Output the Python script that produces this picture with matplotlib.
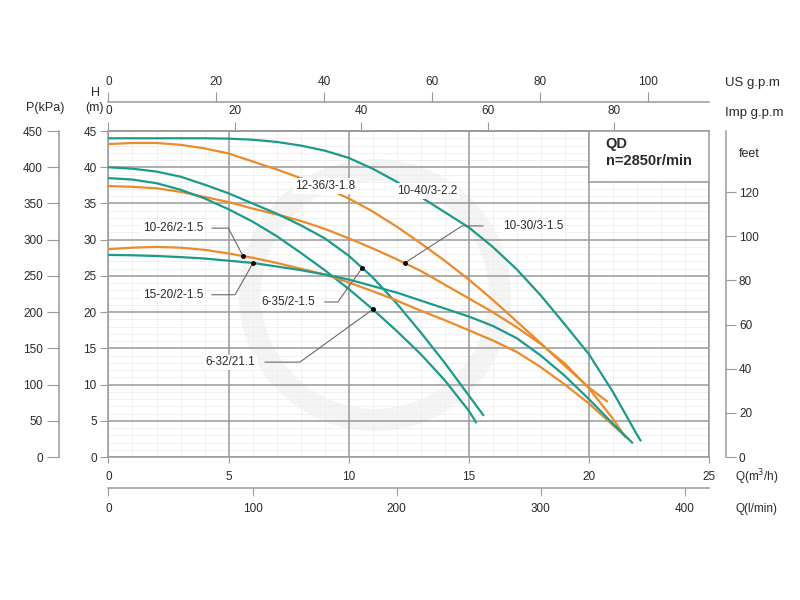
import matplotlib.pyplot as plt
from matplotlib.patches import Rectangle, Ellipse
from matplotlib.ticker import MultipleLocator

plt.rcParams['font.family'] = ['Liberation Sans', 'DejaVu Sans']

# pump curves, Q in m3/h, H in m
q_10_40 = [0, 2, 4, 5, 6, 7, 8, 9, 10, 11, 12, 13, 14, 15, 16, 17, 18, 19, 20, 21, 22, 22.15]
h_10_40 = [44.0, 44.0, 44.0, 43.95, 43.8, 43.5, 43.0, 42.3, 41.3, 39.8, 38.0, 35.9, 33.8, 31.7,
           29.0, 25.9, 22.3, 18.3, 14.2, 9.0, 3.1, 2.3]

q_12_36 = [0, 1, 2, 3, 4, 5, 6, 7, 8, 9, 10, 11, 12, 13, 14, 15, 16, 17, 18, 19, 20, 20.75]
h_12_36 = [43.2, 43.35, 43.35, 43.1, 42.6, 41.9, 40.8, 39.7, 38.5, 37.2, 35.7, 33.9, 31.8, 29.5,
           27.1, 24.5, 21.7, 18.7, 15.7, 12.6, 9.6, 7.7]

q_10_30 = [0, 1, 2, 3, 4, 5, 6, 7, 8, 9, 10, 11, 12, 13, 14, 15, 16, 17, 18, 19, 20, 21, 21.5]
h_10_30 = [37.4, 37.3, 37.1, 36.6, 35.9, 35.2, 34.3, 33.5, 32.6, 31.5, 30.2, 28.8, 27.3, 25.7,
           23.8, 21.9, 20.0, 17.9, 15.6, 12.9, 9.5, 5.3, 2.8]

q_6_35 = [0, 1, 2, 3, 4, 5, 6, 7, 8, 9, 10, 11, 12, 13, 14, 15, 15.6]
h_6_35 = [40.0, 39.8, 39.4, 38.7, 37.6, 36.4, 35.0, 33.6, 32.0, 30.2, 27.8, 24.8, 21.2, 17.2,
          13.0, 8.5, 5.8]

q_6_32 = [0, 1, 2, 3, 4, 5, 6, 7, 8, 9, 10, 11, 12, 13, 14, 15, 15.3]
h_6_32 = [38.5, 38.3, 37.8, 36.9, 35.7, 34.2, 32.5, 30.5, 28.2, 25.8, 23.2, 20.4, 17.4, 14.2,
          10.6, 6.4, 4.8]

q_10_26 = [0, 1, 2, 3, 4, 5, 6, 7, 8, 9, 10, 11, 12, 13, 14, 15, 16, 17, 18, 19, 20, 21, 21.6]
h_10_26 = [28.7, 28.9, 29.0, 28.9, 28.6, 28.1, 27.5, 26.8, 26.0, 25.2, 24.1, 22.9, 21.6, 20.2,
           18.9, 17.5, 16.1, 14.5, 12.4, 10.0, 7.4, 4.4, 2.6]

q_15_20 = [0, 1, 2, 3, 4, 5, 6, 7, 8, 9, 10, 11, 12, 13, 14, 15, 16, 17, 18, 19, 20, 21, 21.8]
h_15_20 = [27.9, 27.85, 27.75, 27.6, 27.4, 27.1, 26.8, 26.3, 25.8, 25.2, 24.5, 23.6, 22.7, 21.6,
           20.5, 19.4, 18.1, 16.4, 14.0, 11.2, 8.0, 4.6, 2.0]

# unit factors as drawn on the chart
IMP = 3.8
US = 4.45
LMIN = 16.67
KPA = 10.0
FT = 3.281

TEAL = '#1c9a8a'
ORANGE = '#ec8a2c'
GRID = '#999999'
AXC = '#9a9a9a'
TXT = '#2a2a2a'
TICK_FS = 8.5

fig = plt.figure(figsize=(8, 6), dpi=100)
ax = fig.add_axes([0.1356, 0.2383, 0.7506, 0.5433])
ax.set_xlim(0, 25)
ax.set_ylim(0, 45)

# faint watermark ring
ax.add_patch(Ellipse((375 / 800, 1 - 295 / 600), 250 / 800, 250 / 600, transform=fig.transFigure,
                     fill=False, lw=16, ec='#f4f4f4', zorder=0.1))

# light minor grid under the major one
ax.vlines([x for x in range(1, 25) if x % 5], 0, 45, color='#eeeeee', lw=0.6, zorder=0.2)
ax.hlines([y for y in range(1, 45) if y % 5], 0, 25, color='#eeeeee', lw=0.6, zorder=0.2)

ax.xaxis.set_major_locator(MultipleLocator(5))
ax.yaxis.set_major_locator(MultipleLocator(5))
ax.set_axisbelow(True)
ax.grid(which='major', color=GRID, lw=1.1)
ax.tick_params(axis='both', which='major', color=AXC, labelcolor=TXT, labelsize=TICK_FS)
ax.tick_params(axis='x', length=4.5, pad=5.5)
ax.tick_params(axis='y', length=5.5, pad=3)
for s in ax.spines.values():
    s.set_color(AXC)
    s.set_linewidth(1.1)

curves = [
    (q_10_40, h_10_40, TEAL),
    (q_12_36, h_12_36, ORANGE),
    (q_10_30, h_10_30, ORANGE),
    (q_6_35, h_6_35, TEAL),
    (q_6_32, h_6_32, TEAL),
    (q_10_26, h_10_26, ORANGE),
    (q_15_20, h_15_20, TEAL),
]
for q, h, c in curves:
    ax.plot(q, h, color=c, lw=1.6, zorder=3, solid_joinstyle='round')

# labels sitting on the curves
for x, y, t in [(9.01, 37.4, '12-36/3-1.8'), (13.26, 36.7, '10-40/3-2.2')]:
    ax.text(x, y, t, ha='center', va='center', fontsize=8.5, color=TXT, zorder=5,
            bbox=dict(fc='white', ec='none', pad=1.5))

# labels with leader lines: text pos, leader path, dot
leaders = [
    ('10-26/2-1.5', (2.69, 31.6), [4.31, 4.99, 5.6], [31.6, 31.6, 27.75]),
    ('15-20/2-1.5', (2.69, 22.4), [4.31, 5.27, 6.02], [22.4, 22.4, 26.8]),
    ('6-35/2-1.5', (7.48, 21.4), [9.01, 9.55, 10.56], [21.4, 21.4, 26.1]),
    ('6-32/21.1', (5.07, 13.1), [6.52, 7.97, 11.01], [13.1, 13.1, 20.4]),
    ('10-30/3-1.5', (17.67, 31.9), [15.59, 14.72, 12.34], [31.9, 31.9, 26.8]),
]
for t, (tx, ty), lx, ly in leaders:
    ax.text(tx, ty, t, ha='center', va='center', fontsize=8.5, color=TXT, zorder=5,
            bbox=dict(fc='white', ec='none', pad=1.0))
    ax.plot(lx, ly, color='#6a6a6a', lw=0.8, zorder=4)
    ax.plot(lx[-1], ly[-1], 'o', color='black', ms=2.5, zorder=6)

# model box
ax.add_patch(Rectangle((20, 37.96), 5, 45 - 37.96, fc='white', ec=AXC, lw=1.1, zorder=4))
ax.text(20.7, 43.2, 'QD', fontsize=10.5, fontweight='bold', color=TXT, va='center', zorder=5)
ax.text(20.7, 40.9, 'n=2850r/min', fontsize=10.5, fontweight='bold', color=TXT, va='center', zorder=5)

# extra scales
imp = ax.secondary_xaxis('top', functions=(lambda q: q * IMP, lambda g: g / IMP))
imp.set_xticks([0, 20, 40, 60, 80])
us = ax.secondary_xaxis(1.09, functions=(lambda q: q * US, lambda g: g / US))
us.set_xticks([0, 20, 40, 60, 80, 100])
lmin = ax.secondary_xaxis(-0.095, functions=(lambda q: q * LMIN, lambda l: l / LMIN))
lmin.set_xticks([0, 100, 200, 300, 400])
kpa = ax.secondary_yaxis(-0.0824, functions=(lambda h: h * KPA, lambda p: p / KPA))
kpa.set_yticks(range(0, 451, 50))
ft = ax.secondary_yaxis(1.028, functions=(lambda h: h * FT, lambda f: f / FT))
ft.set_yticks(range(0, 121, 20))

for sa, pos, ln, pd in [(imp, 'top', 6.5, 3.5), (us, 'top', 7, 3), (lmin, 'bottom', 5.5, 5)]:
    sa.tick_params(axis='x', color=AXC, labelcolor=TXT, labelsize=TICK_FS, length=ln, pad=pd)
    sa.spines[pos].set_color(AXC)
    sa.spines[pos].set_linewidth(1.1)
for sa, pos, ln, pd in [(kpa, 'left', 8.5, 3), (ft, 'right', 7, 2.5)]:
    sa.tick_params(axis='y', color=AXC, labelcolor=TXT, labelsize=TICK_FS, length=ln, pad=pd)
    sa.spines[pos].set_color(AXC)
    sa.spines[pos].set_linewidth(1.1)


def px(x, y):
    return x / 800, 1 - y / 600


fig.text(*px(45, 108), 'P(kPa)', ha='center', va='center', fontsize=9, color=TXT)
fig.text(*px(95, 93), 'H', ha='center', va='center', fontsize=9, color=TXT)
fig.text(*px(95, 108), '(m)', ha='center', va='center', fontsize=9, color=TXT)
fig.text(*px(725, 83), 'US g.p.m', ha='left', va='center', fontsize=9.5, color=TXT)
fig.text(*px(725, 113), 'Imp g.p.m', ha='left', va='center', fontsize=9.5, color=TXT)
fig.text(*px(739, 154), 'feet', ha='left', va='center', fontsize=9, color=TXT)
fig.text(*px(735, 477), 'Q(m$^3$/h)', ha='left', va='center', fontsize=8.5, color=TXT)
fig.text(*px(735, 509), 'Q(l/min)', ha='left', va='center', fontsize=8.5, color=TXT)

fig.savefig('out.png', dpi=100)
